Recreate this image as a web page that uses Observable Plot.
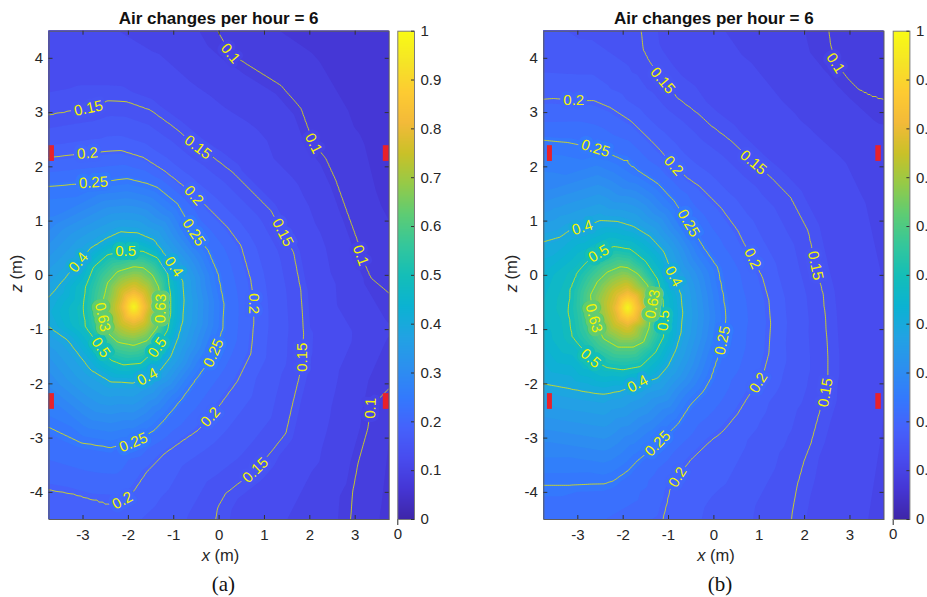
<!DOCTYPE html>
<html><head><meta charset="utf-8">
<script src="https://cdn.jsdelivr.net/npm/d3@7"></script>
<script src="https://cdn.jsdelivr.net/npm/@observablehq/plot@0.6"></script>
<style>
html,body{margin:0;padding:0;background:#fff;overflow:hidden;width:927px;height:597px}
#root{position:relative;width:927px;height:597px;overflow:hidden;background:#fff}
</style></head><body><div id="root"></div>
<script>
// ---------- tick labels ----------
const xTicks = [-3, -2, -1, 0, 1, 2, 3];
const zTicks = [-4, -3, -2, -1, 0, 1, 2, 3, 4];
const cbTicks = [0, 0.1, 0.2, 0.3, 0.4, 0.5, 0.6, 0.7, 0.8, 0.9, 1];
const lineLevels = [0.1, 0.15, 0.2, 0.25, 0.4, 0.5, 0.63];

// ---------- panel (a): contour lines [x, z] ----------
const A_c010a = [[-0.03,4.5],[0.25,4.09],[0.61,3.89],[1.36,3.5],[1.80,3.08],[2.08,2.43],[2.35,2.15],[2.57,1.75],[2.83,1.14],[3.06,0.61],[3.12,0.37],[3.34,-0.04],[3.75,-0.33]];
const A_c010b = [[3.75,-1.75],[3.45,-1.99],[3.34,-2.45],[3.28,-2.82],[3.06,-3.47],[2.95,-3.96],[2.90,-4.5]];
const A_c015 = [[-3.75,2.95],[-2.88,3.08],[-2.44,3.21],[-2.02,3.19],[-1.51,3.04],[-1.0,2.73],[-0.47,2.36],[-0.08,2.14],[0.32,1.88],[0.70,1.56],[1.14,1.19],[1.40,0.79],[1.64,0.42],[1.80,-0.28],[1.86,-1.07],[1.84,-1.51],[1.80,-1.75],[1.62,-2.36],[1.47,-2.91],[1.14,-3.26],[0.80,-3.59],[0.43,-3.83],[0.14,-4.02],[-0.03,-4.27],[-0.08,-4.5]];
const A_c020 = [[-3.75,2.17],[-2.90,2.25],[-2.50,2.28],[-2.17,2.30],[-1.67,2.17],[-1.22,1.93],[-0.85,1.69],[-0.56,1.47],[-0.25,1.25],[0.19,0.88],[0.48,0.55],[0.70,-0.10],[0.76,-0.52],[0.76,-0.89],[0.70,-1.44],[0.40,-1.95],[0.03,-2.37],[-0.19,-2.61],[-0.48,-2.86],[-0.85,-3.07],[-1.22,-3.29],[-1.58,-3.60],[-1.88,-3.97],[-2.13,-4.15],[-2.47,-4.24],[-2.83,-4.12],[-3.20,-4.03],[-3.75,-3.95]];
const A_c025 = [[-3.75,1.64],[-2.77,1.71],[-2.33,1.75],[-2.02,1.78],[-1.58,1.69],[-1.36,1.62],[-0.92,1.32],[-0.56,0.79],[-0.25,0.46],[-0.03,0.03],[0.10,-0.52],[0.08,-0.97],[-0.12,-1.43],[-0.37,-1.75],[-0.85,-2.30],[-1.22,-2.67],[-1.44,-2.86],[-1.89,-3.08],[-2.39,-3.17],[-3.05,-3.08],[-3.75,-2.80]];
const A_c040 = [[-3.75,-0.40],[-3.56,-0.22],[-3.10,0.24],[-2.83,0.50],[-2.46,0.69],[-2.17,0.80],[-1.80,0.78],[-1.44,0.65],[-1.0,0.16],[-0.80,-0.12],[-0.78,-0.45],[-0.80,-0.82],[-0.92,-1.18],[-1.07,-1.50],[-1.29,-1.74],[-1.58,-1.87],[-1.89,-1.98],[-2.39,-1.96],[-2.83,-1.74],[-3.12,-1.43],[-3.34,-1.19],[-3.75,-0.95]];
const A_c050 = [[-2.06,0.44],[-2.46,0.38],[-2.77,0.15],[-2.94,-0.21],[-2.99,-0.58],[-2.94,-0.95],[-2.61,-1.33],[-2.39,-1.56],[-2.11,-1.65],[-1.73,-1.62],[-1.36,-1.33],[-1.14,-1.01],[-1.07,-0.70],[-1.07,-0.40],[-1.14,0.04],[-1.36,0.32],[-1.67,0.44]];
const A_c063 = [[-1.88,0.16],[-2.24,0.07],[-2.46,-0.14],[-2.55,-0.45],[-2.57,-0.77],[-2.46,-1.06],[-2.24,-1.23],[-1.88,-1.29],[-1.58,-1.20],[-1.36,-0.96],[-1.29,-0.61],[-1.33,-0.22],[-1.47,0.01],[-1.67,0.14]];
const A_peak = [[-1.88,-0.58,0.99],[-2.17,-0.58,0.8],[-1.58,-0.58,0.8],[-1.88,-0.25,0.8],[-1.88,-0.90,0.8],[-2.08,-0.35,0.8],[-1.68,-0.35,0.8],[-2.08,-0.82,0.8],[-1.68,-0.82,0.8]];
const A_edge = [[-3.75,4.5,0.13],[-2.5,4.5,0.128],[-1.25,4.5,0.115],[1.0,4.5,0.088],[2.5,4.5,0.075],[3.75,4.5,0.07],
  [3.75,3.0,0.072],[3.75,1.5,0.08],[3.75,0.5,0.09],[3.75,-1.0,0.106],[3.75,-3.0,0.085],[3.75,-4.5,0.08],
  [1.5,-4.5,0.125],[-1.0,-4.5,0.172],[-2.0,-4.5,0.19],[-3.0,-4.5,0.195],[-3.75,-4.5,0.19],
  [-3.75,-3.4,0.225],[-3.75,-2.1,0.30],[-3.75,-1.5,0.345],[-3.75,-0.67,0.42],[-3.75,0.0,0.375],[-3.75,0.4,0.34],[-3.75,1.0,0.29],[-3.75,1.9,0.225],[-3.75,2.55,0.175],[-3.75,3.8,0.14]];
// contour labels [x, z, level, angle]
const A_labels = [[0.25,4.09,0.1,50],[2.08,2.43,0.1,63],[3.12,0.37,0.1,70],[3.34,-2.45,0.1,-88],
  [-2.88,3.08,0.15,-12],[-0.47,2.36,0.15,37],[1.40,0.79,0.15,63],[1.84,-1.51,0.15,-90],[0.80,-3.59,0.15,-44],
  [-2.90,2.25,0.2,-5],[-0.56,1.47,0.2,48],[0.76,-0.52,0.2,90],[-0.19,-2.61,0.2,-48],[-2.13,-4.15,0.2,-28],
  [-2.77,1.71,0.25,-3],[-0.56,0.79,0.25,57],[-0.12,-1.43,0.25,-66],[-1.89,-3.08,0.25,-22],
  [-3.10,0.24,0.4,-50],[-1.0,0.16,0.4,55],[-1.58,-1.87,0.4,-28],
  [-2.06,0.44,0.5,0],[-2.61,-1.33,0.5,55],[-1.36,-1.33,0.5,-55],
  [-2.57,-0.77,0.63,78],[-1.29,-0.61,0.63,-88]];
// vents [x1, x2, z1, z2]
const A_vents = [[-3.75,-3.63,2.10,2.39],[-3.75,-3.63,-2.47,-2.18],[3.62,3.75,2.10,2.39],[3.62,3.75,-2.47,-2.18]];

// ---------- panel (b) ----------
const B_c010 = [[2.54,4.5],[2.57,4.28],[2.68,3.91],[2.95,3.63],[3.17,3.44],[3.45,3.28],[3.75,3.24]];
const B_c015 = [[-1.60,4.5],[-1.55,4.14],[-1.44,3.96],[-1.13,3.59],[-0.80,3.26],[-0.36,2.98],[-0.07,2.76],[0.37,2.48],[0.87,2.08],[1.29,1.78],[1.69,1.43],[2.07,0.82],[2.24,0.18],[2.40,-0.34],[2.46,-0.84],[2.51,-1.52],[2.51,-1.89],[2.46,-2.16],[2.31,-2.56],[2.13,-3.11],[1.98,-3.43],[1.84,-3.85],[1.73,-4.35],[1.71,-4.5]];
const B_c020 = [[-3.75,3.24],[-3.54,3.26],[-3.09,3.22],[-2.65,3.22],[-2.28,3.09],[-1.84,2.85],[-1.40,2.49],[-1.18,2.30],[-0.89,2.02],[-0.58,1.79],[-0.29,1.62],[0.15,1.25],[0.52,0.83],[0.66,0.59],[0.85,0.31],[1.07,-0.04],[1.21,-0.46],[1.25,-0.89],[1.21,-1.44],[1.09,-1.81],[0.98,-1.98],[0.74,-2.25],[0.52,-2.55],[0.21,-2.86],[-0.15,-3.10],[-0.53,-3.41],[-0.80,-3.72],[-0.98,-3.96],[-1.04,-4.20],[-1.13,-4.5]];
const B_c025 = [[-3.75,2.49],[-3.23,2.45],[-2.61,2.34],[-2.12,2.17],[-1.90,2.12],[-1.68,1.93],[-1.24,1.69],[-0.89,1.38],[-0.56,0.96],[-0.23,0.51],[0.08,0.14],[0.21,-0.41],[0.26,-0.78],[0.19,-1.20],[0.04,-1.61],[-0.07,-1.89],[-0.23,-2.13],[-0.51,-2.37],[-0.80,-2.74],[-1.24,-3.10],[-1.68,-3.41],[-1.90,-3.60],[-2.21,-3.78],[-2.43,-3.84],[-3.16,-3.86],[-3.75,-3.86]];
const B_c040 = [[-3.75,0.62],[-3.38,0.71],[-3.16,0.84],[-2.90,0.88],[-2.50,1.01],[-2.12,0.99],[-1.77,0.90],[-1.40,0.71],[-1.11,0.44],[-0.89,-0.02],[-0.73,-0.35],[-0.69,-0.69],[-0.73,-1.06],[-0.84,-1.37],[-1.02,-1.68],[-1.24,-1.89],[-1.68,-2.00],[-2.06,-2.13],[-2.43,-2.19],[-2.79,-2.15],[-3.16,-2.09],[-3.75,-2.00]];
const B_c050 = [[-2.54,0.40],[-2.78,0.26],[-3.0,0.06],[-3.16,-0.26],[-3.20,-0.68],[-3.12,-1.13],[-2.72,-1.53],[-2.35,-1.70],[-2.0,-1.74],[-1.62,-1.68],[-1.29,-1.42],[-1.11,-1.13],[-1.11,-0.83],[-1.13,-0.45],[-1.24,-0.08],[-1.51,0.26],[-1.84,0.48],[-2.21,0.53]];
const B_c063 = [[-2.06,0.16],[-2.35,0.06],[-2.57,-0.12],[-2.72,-0.36],[-2.65,-0.79],[-2.43,-1.17],[-2.12,-1.32],[-1.77,-1.32],[-1.55,-1.23],[-1.44,-0.99],[-1.35,-0.53],[-1.46,-0.18],[-1.68,0.03],[-1.90,0.14]];
const B_peak = [[-1.90,-0.60,0.99],[-2.20,-0.60,0.8],[-1.60,-0.60,0.8],[-1.90,-0.27,0.8],[-1.90,-0.93,0.8],[-2.11,-0.37,0.8],[-1.69,-0.37,0.8],[-2.11,-0.83,0.8],[-1.69,-0.83,0.8]];
const B_edge = [[-3.75,4.5,0.17],[-2.7,4.5,0.16],[-0.5,4.5,0.135],[1.0,4.5,0.115],[3.2,4.5,0.09],[3.75,4.5,0.085],
  [3.75,2.5,0.108],[3.75,1.5,0.117],[3.75,0.0,0.124],[3.75,-1.5,0.126],[3.75,-3.0,0.124],[3.75,-4.5,0.12],
  [2.7,-4.5,0.135],[0.3,-4.5,0.175],[-2.4,-4.5,0.225],[-3.75,-4.5,0.235],
  [-3.75,-3.0,0.31],[-3.75,-1.2,0.45],[-3.75,-0.6,0.47],[-3.75,0.0,0.45],[-3.75,1.5,0.31],[-3.75,2.9,0.22],[-3.75,3.9,0.18]];
const B_labels = [[2.68,3.91,0.1,58],
  [-1.13,3.59,0.15,50],[0.87,2.08,0.15,40],[2.24,0.18,0.15,78],[2.46,-2.16,0.15,-80],
  [-3.09,3.22,0.2,0],[-0.89,2.02,0.2,48],[0.85,0.31,0.2,65],[0.98,-1.98,0.2,-58],[-0.80,-3.72,0.2,-58],
  [-2.61,2.34,0.25,17],[-0.56,0.96,0.25,60],[0.19,-1.20,0.25,-78],[-1.24,-3.10,0.25,-45],
  [-2.90,0.88,0.4,-17],[-0.89,-0.02,0.4,62],[-1.68,-2.00,0.4,-28],
  [-2.54,0.40,0.5,-30],[-2.72,-1.53,0.5,40],[-1.11,-0.83,0.5,-85],
  [-2.65,-0.79,0.63,75],[-1.35,-0.53,0.63,-80]];
const B_vents = [[-3.67,-3.56,2.10,2.39],[-3.67,-3.56,-2.47,-2.18],[3.57,3.69,2.10,2.39],[3.57,3.69,-2.47,-2.18]];

// ---------- build sample tables ----------
// Samples that sit on the frame edge are also repeated just outside it, so that
// the interpolated field covers the slightly enlarged contour extent (this keeps
// the contour outlines from running along the frame).
function samples(lines, extras) {
  const out = [];
  const add = (x, z, v) => {
    out.push({x, z, v});
    const ex = Math.abs(x) >= 3.749, ez = Math.abs(z) >= 4.499;
    if (ex || ez) out.push({x: ex ? x * 1.12 : x, z: ez ? z * 1.1 : z, v});
  };
  for (const [level, pts] of lines) for (const [x, z] of pts) add(x, z, level);
  for (const [x, z, v] of extras) add(x, z, v);
  return out;
}
const dataA = samples([[0.1,A_c010a],[0.1,A_c010b],[0.15,A_c015],[0.2,A_c020],[0.25,A_c025],[0.4,A_c040],[0.5,A_c050],[0.63,A_c063]], [...A_peak, ...A_edge]);
const dataB = samples([[0.1,B_c010],[0.15,B_c015],[0.2,B_c020],[0.25,B_c025],[0.4,B_c040],[0.5,B_c050],[0.63,B_c063]], [...B_peak, ...B_edge]);

// ---------- style ----------
const parula = ["#3e26a8","#4536d5","#484cef","#4562fc","#337afd","#2c90ef","#21a3e3","#0bb3d2","#14beb8","#35c79b","#5ecc74","#96ca48","#cac128","#f3ba39","#fdcb32","#f5e526","#f9fb15"];
const parulaInterp = d3.piecewise(d3.interpolateRgb, parula);
const fillThresholds = d3.range(0.005, 1, 0.02);
const lineThresholds = lineLevels.map(d => d - 1e-6);
const FONT = "'Liberation Sans', Arial, Helvetica, sans-serif";
const W = 395, H = 548, MT = 30.7, MB = 29, PW = 340.2, PH = H - MT - MB;

function mainPlot(data, labels, vents, ml) {
  const mr = W - ml - PW;
  const ext = {x1: -3.95, x2: 3.95, y1: -4.75, y2: 4.75};
  return Plot.plot({
    width: W, height: H, marginLeft: ml, marginRight: mr, marginTop: MT, marginBottom: MB,
    style: {fontFamily: FONT, fontSize: "15px", color: "#262626", background: "transparent", overflow: "visible"},
    x: {domain: [-3.75, 3.75]},
    y: {domain: [-4.5, 4.5]},
    color: {type: "linear", domain: [0, 1], interpolate: parulaInterp},
    marks: [
      Plot.contour(data, {x: "x", y: "z", fill: "v", thresholds: fillThresholds, interpolate: "barycentric", ...ext, stroke: "none", clip: true}),
      Plot.contour(data, {x: "x", y: "z", value: "v", thresholds: lineThresholds, interpolate: "barycentric", ...ext, fill: "none", stroke: "#e8e800", strokeWidth: 0.8, clip: true}),
      Plot.text(labels, {x: d => d[0], y: d => d[1], text: d => String(d[2]), rotate: d => d[3], fill: "#f4f400", stroke: d => d[2], strokeWidth: 8, paintOrder: "stroke", strokeLinejoin: "round", fontSize: 15, fontFamily: FONT}),
      Plot.rect(vents, {x1: d => d[0], x2: d => d[1], y1: d => d[2], y2: d => d[3], fill: "#e8212b"}),
      Plot.frame({stroke: "#5e5e5e", strokeWidth: 1}),
      Plot.tickX(xTicks, {x: d => d, insetTop: PH - 4, stroke: "#333"}),
      Plot.tickX(xTicks, {x: d => d, insetBottom: PH - 4, stroke: "#333"}),
      Plot.tickY(zTicks, {y: d => d, insetRight: PW - 4, stroke: "#333"}),
      Plot.tickY(zTicks, {y: d => d, insetLeft: PW - 4, stroke: "#333"}),
      Plot.axisX(xTicks, {tickSize: 0, tickPadding: 10, tickFormat: d => String(d), label: null, fontSize: 15}),
      Plot.axisY(zTicks, {tickSize: 0, tickPadding: 6, tickFormat: d => String(d), label: null, fontSize: 15})
    ]
  });
}

function colorbar(ml) {
  const CW = 55, BW = 16.7;
  return Plot.plot({
    width: CW, height: H, marginLeft: ml, marginRight: CW - ml - BW, marginTop: MT, marginBottom: MB,
    style: {fontFamily: FONT, fontSize: "15px", color: "#262626", background: "transparent", overflow: "visible"},
    x: {domain: [0, 1]},
    y: {domain: [0, 1]},
    color: {type: "linear", domain: [0, 1], interpolate: parulaInterp},
    marks: [
      Plot.raster({x1: 0, x2: 1, y1: 0, y2: 1, fill: (x, y) => y, pixelSize: 1}),
      Plot.frame({stroke: "#7a7a7a"}),
      Plot.tickY(cbTicks, {y: d => d, insetLeft: BW - 3, stroke: "#333"}),
      Plot.axisY(cbTicks, {anchor: "right", tickSize: 0, tickPadding: 6, tickFormat: d => String(d), label: null, fontSize: 15})
    ]
  });
}

const root = document.getElementById("root");
function place(node, left) {
  node.style.position = "absolute";
  node.style.left = left + "px";
  node.style.top = "0px";
  root.appendChild(node);
}
place(mainPlot(dataA, A_labels, A_vents, 48.5), 0);
place(colorbar(7.3), 390);
place(mainPlot(dataB, B_labels, B_vents, 48.3), 495);
place(colorbar(7.7), 885);

// ---------- titles, axis labels, captions ----------
const NS = "http://www.w3.org/2000/svg";
const ov = document.createElementNS(NS, "svg");
ov.setAttribute("width", 927); ov.setAttribute("height", 597);
ov.style.position = "absolute"; ov.style.left = "0px"; ov.style.top = "0px";
ov.innerHTML = `
<g font-family="${FONT.replace(/'/g, "")}" fill="#262626">
  <text x="218.6" y="23.5" text-anchor="middle" font-weight="bold" font-size="17" fill="#111">Air changes per hour = 6</text>
  <text x="713.8" y="23.5" text-anchor="middle" font-weight="bold" font-size="17" fill="#111">Air changes per hour = 6</text>
  <text x="220.5" y="561" text-anchor="middle" font-size="16.5"><tspan font-style="italic">x</tspan> (m)</text>
  <text x="716" y="561" text-anchor="middle" font-size="16.5"><tspan font-style="italic">x</tspan> (m)</text>
  <text transform="translate(22,273.5) rotate(-90)" text-anchor="middle" font-size="16.5"><tspan font-style="italic">z</tspan> (m)</text>
  <text transform="translate(517,273.5) rotate(-90)" text-anchor="middle" font-size="16.5"><tspan font-style="italic">z</tspan> (m)</text>
</g>
<g font-family="Liberation Serif, Times New Roman, serif" fill="#111" font-size="21">
  <text x="223.3" y="591" text-anchor="middle">(a)</text>
  <text x="720" y="591" text-anchor="middle">(b)</text>
</g>`;
root.appendChild(ov);
</script></body></html>
